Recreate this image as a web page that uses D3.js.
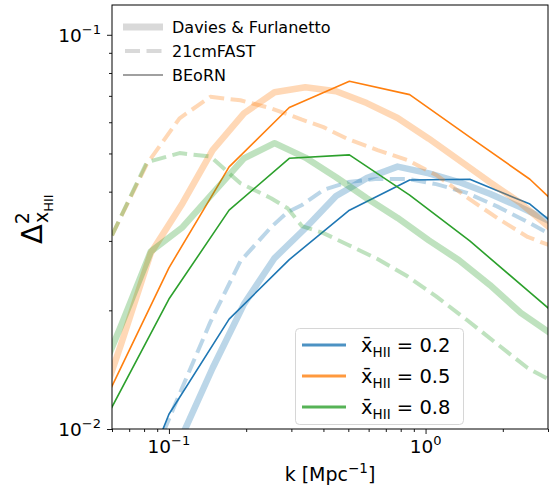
<!DOCTYPE html>
<html>
<head>
<meta charset="utf-8">
<script src="https://cdn.jsdelivr.net/npm/d3@7"></script>
<style>
  body { margin: 0; background: #fff; }
  svg text { font-family: "DejaVu Sans", sans-serif; }
</style>
</head>
<body>
<svg id="chart" width="557" height="488"></svg>
<script>
// BEoRN (thin solid lines)
var kBeorn = [0.0583, 0.1, 0.1716, 0.2944, 0.505, 0.867, 1.487, 2.55, 4.37]
var beorn02 = [0.00452, 0.0109, 0.0190, 0.0269, 0.0359, 0.0428, 0.0430, 0.0372, 0.0279]
var beorn05 = [0.01236, 0.02564, 0.04624, 0.0654, 0.0762, 0.0705, 0.0550, 0.0430, 0.0309]
var beorn08 = [0.01098, 0.02136, 0.0359, 0.0486, 0.0496, 0.0392, 0.0300, 0.02221, 0.01647]

// Davies & Furlanetto (thick, faded)
var kDF = [0.049, 0.065, 0.085, 0.113, 0.148, 0.196, 0.258, 0.34, 0.448, 0.59, 0.778, 1.03, 1.35, 1.78, 2.35, 3.1]
var df02 = [null, null, 0.00657, 0.00967, 0.01428, 0.02074, 0.02714, 0.0323, 0.0390, 0.0433, 0.0463, 0.0445, 0.0423, 0.0395, 0.0365, 0.0335]
var df05 = [0.00955, 0.01636, 0.02794, 0.0374, 0.0510, 0.0632, 0.0715, 0.0736, 0.0719, 0.0671, 0.0615, 0.0545, 0.0481, 0.0423, 0.0374, 0.0321]
var df08 = [0.01178, 0.01824, 0.0282, 0.0325, 0.0396, 0.0486, 0.0531, 0.0488, 0.0435, 0.0385, 0.0343, 0.0301, 0.0268, 0.0232, 0.0197, 0.0174]

// 21cmFAST (dashed, faded)
var kFast = [0.06, 0.082, 0.11, 0.145, 0.19, 0.25, 0.29, 0.33, 0.4, 0.5, 0.65, 0.85, 1.1, 1.45, 1.9, 2.5, 3.1]
var fast02 = [null, 0.0078, 0.01227, 0.01867, 0.02666, 0.0325, 0.0355, 0.0370, 0.0404, 0.0423, 0.0431, 0.0431, 0.0418, 0.0397, 0.0367, 0.0335, 0.0310]
var fast05 = [0.0310, 0.0470, 0.0614, 0.0696, 0.0682, 0.0651, 0.0629, 0.0609, 0.0583, 0.0543, 0.0510, 0.0481, 0.0441, 0.0387, 0.0343, 0.0307, 0.0291]
var fast08 = [0.0310, 0.0475, 0.0501, 0.0491, 0.0420, 0.0385, 0.0363, 0.0327, 0.0314, 0.0293, 0.0270, 0.0244, 0.0217, 0.0189, 0.01643, 0.01428, 0.01323]

var xhiiLabels = ['0.2', '0.5', '0.8']
var colors = ['#1f77b4', '#ff7f0e', '#2ca02c']
var modelNames = ['Davies & Furlanetto', '21cmFAST', 'BEoRN']

var xMajor = [0.1, 1]
var xMajorExp = ['\u22121', '0']
var xMinor = [0.06, 0.07, 0.08, 0.09, 0.2, 0.3, 0.4, 0.5, 0.6, 0.7, 0.8, 0.9, 2, 3]
var yMajor = [0.01, 0.1]
var yMajorExp = ['\u22122', '\u22121']
var yMinor = [0.02, 0.03, 0.04, 0.05, 0.06, 0.07, 0.08, 0.09]

var mLeft = 112, mRight = 548, mTop = 5, mBottom = 429

var svg = d3.select('#chart')

var x = d3.scaleLog().domain([0.06, 3]).range([mLeft, mRight])
var y = d3.scaleLog().domain([0.01, 0.119]).range([mBottom, mTop])

svg.append('clipPath').attr('id', 'clip')
    .append('rect')
    .attr('x', mLeft).attr('y', mTop)
    .attr('width', mRight - mLeft).attr('height', mBottom - mTop)

var plot = svg.append('g').attr('clip-path', 'url(#clip)')

function drawLine(ks, vals, color, width, opacity, dash) {
    var line = d3.line()
        .defined(function(d) { return d[1] != null })
        .x(function(d) { return x(d[0]) })
        .y(function(d) { return y(d[1]) })
    var p = plot.append('path')
        .datum(ks.map(function(k, i) { return [k, vals[i]] }))
        .attr('d', line)
        .attr('fill', 'none')
        .attr('stroke', color)
        .attr('stroke-width', width)
        .attr('stroke-opacity', opacity)
        .attr('stroke-linejoin', 'round')
    if (dash) p.attr('stroke-dasharray', dash)
}

var dfAll = [df02, df05, df08]
var fastAll = [fast02, fast05, fast08]
var beornAll = [beorn02, beorn05, beorn08]

for (var i = 0; i < 3; i++) {
    drawLine(kDF, dfAll[i], colors[i], 6.5, 0.3)
    drawLine(kFast, fastAll[i], colors[i], 4, 0.3, '15,6.5')
    drawLine(kBeorn, beornAll[i], colors[i], 1.6, 1)
}

// axes
var xAxis = d3.axisBottom(x).tickValues(xMajor).tickSize(5).tickFormat('')
var xAxisMinor = d3.axisBottom(x).tickValues(xMinor).tickSize(3).tickFormat('')
var yAxis = d3.axisLeft(y).tickValues(yMajor).tickSize(5).tickFormat('')
var yAxisMinor = d3.axisLeft(y).tickValues(yMinor).tickSize(3).tickFormat('')

svg.append('g').attr('transform', 'translate(0,' + mBottom + ')').call(xAxis)
svg.append('g').attr('transform', 'translate(0,' + mBottom + ')').call(xAxisMinor)
svg.append('g').attr('transform', 'translate(' + mLeft + ',0)').call(yAxis)
svg.append('g').attr('transform', 'translate(' + mLeft + ',0)').call(yAxisMinor)
svg.selectAll('.domain').remove()
svg.selectAll('.tick line').attr('stroke', '#000').attr('stroke-width', 0.9)

svg.append('rect')
    .attr('x', mLeft).attr('y', mTop)
    .attr('width', mRight - mLeft).attr('height', mBottom - mTop)
    .attr('fill', 'none').attr('stroke', '#000').attr('stroke-width', 1)

function powLabel(tx, ty, exp, anchor) {
    var t = svg.append('text')
        .attr('x', tx).attr('y', ty)
        .attr('text-anchor', anchor)
        .attr('font-size', 18.5)
        .attr('fill', '#000')
    t.append('tspan').text('10')
    t.append('tspan').attr('dy', -8).attr('font-size', 13).text(exp)
}

xMajor.forEach(function(v, i) { powLabel(x(v), 453, xMajorExp[i], 'middle') })
yMajor.forEach(function(v, i) { powLabel(101, y(v) + 7, yMajorExp[i], 'end') })

// axis labels
var xl = svg.append('text')
    .attr('x', 330).attr('y', 481)
    .attr('text-anchor', 'middle')
    .attr('font-size', 19)
xl.append('tspan').text('k [Mpc')
xl.append('tspan').attr('dy', -8).attr('font-size', 13.5).text('\u22121')
xl.append('tspan').attr('dy', 8).text(']')

var yl = svg.append('text')
    .attr('transform', 'translate(42,244) rotate(-90)')
    .attr('font-size', 29)
yl.append('tspan').text('\u0394')
yl.append('tspan').attr('font-size', 19).attr('dy', -13).text('2')
yl.append('tspan').attr('font-size', 19).attr('dx', -11).attr('dy', 19).text('x')
yl.append('tspan').attr('font-size', 13).attr('dy', 5).text('HII')

// model legend (top-left, no frame)
var leg1 = svg.append('g')
modelNames.forEach(function(name, i) {
    var yy = 27 + i * 24
    var l = leg1.append('line')
        .attr('x1', 123).attr('x2', 163)
        .attr('y1', yy).attr('y2', yy)
        .attr('stroke', '#808080')
    if (i === 0) l.attr('stroke-width', 7).attr('stroke-opacity', 0.3)
    if (i === 1) l.attr('stroke-width', 4).attr('stroke-opacity', 0.3).attr('stroke-dasharray', '15,6.5').attr('x1', 125)
    if (i === 2) l.attr('stroke-width', 1.6)
    leg1.append('text')
        .attr('x', 172).attr('y', yy + 6)
        .attr('font-size', 16)
        .text(name)
})

// ionised fraction legend (bottom-right, framed)
var leg2 = svg.append('g')
leg2.append('rect')
    .attr('x', 295.5).attr('y', 328.5)
    .attr('width', 168).attr('height', 96)
    .attr('rx', 4)
    .attr('fill', '#fff').attr('fill-opacity', 0.8)
    .attr('stroke', '#d6d6d6')
xhiiLabels.forEach(function(lab, i) {
    var yy = 345 + i * 31
    leg2.append('line')
        .attr('x1', 302).attr('x2', 346)
        .attr('y1', yy).attr('y2', yy)
        .attr('stroke', colors[i])
        .attr('stroke-opacity', 0.8)
        .attr('stroke-width', 3)
    var t = leg2.append('text')
        .attr('x', 361).attr('y', yy + 7)
        .attr('font-size', 19.5)
    t.append('tspan').text('x\u0304')
    t.append('tspan').attr('font-size', 13.5).attr('dy', 5).text('HII')
    t.append('tspan').attr('dy', -5).text(' = ' + lab)
})
</script>
</body>
</html>
